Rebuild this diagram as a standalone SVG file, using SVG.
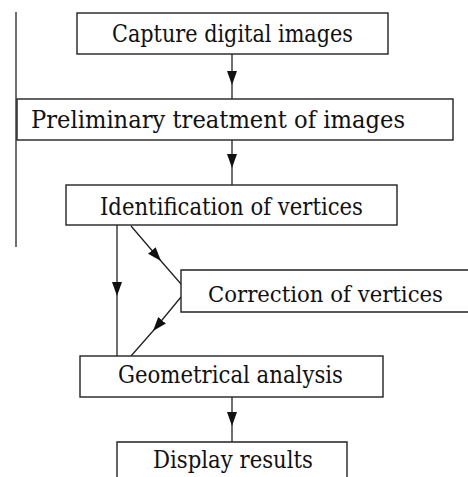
<svg xmlns="http://www.w3.org/2000/svg" width="468" height="477" viewBox="0 0 468 477">
<style>
.box{fill:#fff;stroke:#222;stroke-width:1.4}
.con{fill:none;stroke:#222;stroke-width:1.3;marker-mid:url(#ah)}
.lbl{font-family:"DejaVu Serif",serif;font-size:24px;fill:#111;text-anchor:middle}
</style>
<defs>
<marker id="ah" markerUnits="userSpaceOnUse" markerWidth="15" markerHeight="11" refX="14" refY="5" orient="auto">
<path d="M0,0 L14,5 L0,10 z" fill="#111"/>
</marker>
</defs>
<rect width="468" height="477" fill="#fff"/>
<line x1="16" y1="12" x2="16" y2="247" stroke="#222" stroke-width="1.3"/>
<g id="connectors">
<path class="con" d="M232,54 L232,85 L232,99"/>
<path class="con" d="M232,140 L232,168 L232,185"/>
<path class="con" d="M117,225 L117,296 L117,356"/>
<path class="con" d="M131,226 L161,261 L181,284"/>
<path class="con" d="M181,297 L153,331 L131,356"/>
<path class="con" d="M232,397 L232,426 L232,442"/>
</g>
<g id="n1"><rect class="box" x="77" y="13" width="311" height="41"/><text class="lbl" x="232.5" y="42" textLength="241" lengthAdjust="spacingAndGlyphs">Capture digital images</text></g>
<g id="n2"><rect class="box" x="17" y="99" width="436" height="41"/><text class="lbl" x="218" y="128" textLength="374" lengthAdjust="spacingAndGlyphs">Preliminary treatment of images</text></g>
<g id="n3"><rect class="box" x="66" y="185" width="331" height="40"/><text class="lbl" x="231.5" y="215" textLength="263" lengthAdjust="spacingAndGlyphs">Identification of vertices</text></g>
<g id="n4"><path class="box" d="M468,270 H181 V312 H468"/><text class="lbl" x="325.5" y="302" font-size="22.5" style="font-size:22.5px" textLength="235" lengthAdjust="spacingAndGlyphs">Correction of vertices</text></g>
<g id="n5"><rect class="box" x="80" y="356" width="303" height="41"/><text class="lbl" x="230.5" y="383" textLength="225" lengthAdjust="spacingAndGlyphs">Geometrical analysis</text></g>
<g id="n6"><path class="box" d="M117,477 V442 H347 V477"/><text class="lbl" x="233" y="468" textLength="160" lengthAdjust="spacingAndGlyphs">Display results</text></g>
</svg>
